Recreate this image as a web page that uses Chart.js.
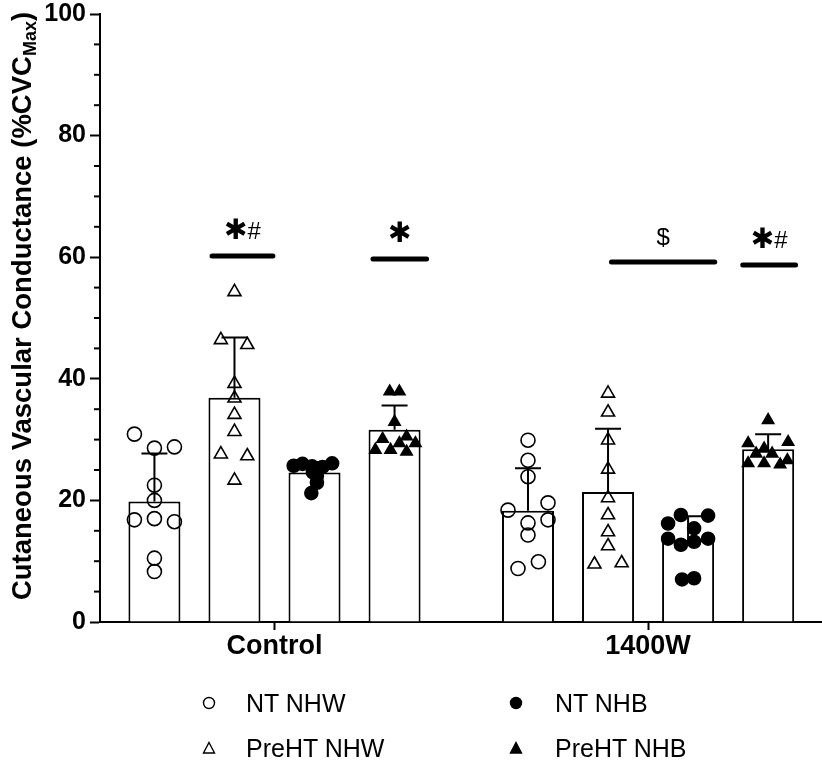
<!DOCTYPE html>
<html>
<head>
<meta charset="utf-8">
<script src="https://cdn.jsdelivr.net/npm/chart.js@4.4.1/dist/chart.umd.min.js"></script>
<style>
  html, body { margin: 0; padding: 0; background: #fff; }
  #wrap { position: relative; width: 822px; height: 765px; }
  #legend { position: absolute; left: 0; top: 0; width: 822px; height: 765px; pointer-events: none;
    font-family: 'Liberation Sans', Arial, sans-serif; font-size: 25px; color: #000; }
  .item { position: absolute; height: 30px; line-height: 30px; white-space: nowrap; }
  .item svg { position: absolute; top: 8px; }
  .item span { position: absolute; top: 0; }
</style>
</head>
<body>
<div id="wrap">
  <canvas id="myChart" width="822" height="765"></canvas>
  <div id="legend"></div>
</div>
<script>
var groupLabels = ['Control', '1400W'];
var seriesLabels = ['NT NHW', 'PreHT NHW', 'NT NHB', 'PreHT NHB'];

// bar heights (mean) and upper error bar (SD), order as seriesLabels
var meanControl = [19.8, 36.9, 24.6, 31.6];
var meanW1400 = [18.3, 21.4, 13.5, 28.4];
var sdControl = [7.9, 9.9, 1.4, 4.0];
var sdW1400 = [7.0, 10.4, 3.9, 2.5];

// individual subjects, Control
var ctlNtNhw = [30.9, 28.6, 28.8, 22.5, 20.0, 16.8, 17.0, 16.5, 10.5, 8.3];
var ctlPreNhw = [54.3, 46.4, 45.6, 39.2, 36.8, 34.1, 31.3, 27.6, 27.3, 23.3];
var ctlNtNhb = [25.7, 26.0, 25.6, 25.5, 26.1, 25.3, 24.6, 24.0, 22.9, 21.2];
var ctlPreNhb = [37.9, 37.9, 32.9, 30.1, 30.5, 29.4, 29.4, 28.3, 28.3, 28.0];
// individual subjects, 1400W
var wNtNhw = [29.9, 26.6, 23.9, 18.4, 19.6, 16.8, 16.3, 14.3, 8.8, 9.9];
var wPreNhw = [37.6, 34.5, 29.9, 25.1, 20.4, 17.6, 14.8, 12.5, 9.5, 9.7];
var wNtNhb = [16.2, 17.6, 17.5, 15.4, 13.7, 12.7, 13.2, 13.7, 7.0, 7.2];
var wPreNhb = [33.2, 29.4, 29.6, 28.5, 27.7, 27.7, 26.1, 26.1, 25.9, 26.6];

// horizontal scatter of the dots (fraction of bar spacing)
var ctlNtNhwJit = [-0.25, 0, 0.25, 0, 0, -0.25, 0, 0.25, 0, 0];
var ctlPreNhwJit = [0, -0.17, 0.16, 0, 0, 0, 0, -0.17, 0.16, 0];
var ctlNtNhbJit = [-0.26, -0.15, -0.03, 0.1, 0.22, 0.04, -0.02, 0.03, 0.03, -0.04];
var ctlPreNhbJit = [-0.06, 0.06, 0, -0.15, 0.15, 0.06, 0.26, -0.24, -0.05, 0.15];
var wNtNhwJit = [0, 0, 0, -0.25, 0.25, 0.25, 0, 0, -0.125, 0.13];
var wPreNhwJit = [0, 0, 0, 0, 0, 0, 0, 0, -0.17, 0.17];
var wNtNhbJit = [-0.25, -0.09, 0.25, 0.075, -0.25, -0.09, 0.075, 0.25, -0.075, 0.075];
var wPreNhbJit = [0, -0.25, 0.25, -0.05, -0.15, 0.05, -0.25, -0.05, 0.15, 0.24];

// significance bars
var sigY = [60.2, 59.7, 59.2, 58.7];
var sigStart = [0.72, 2.73, 5.71, 7.35];
var sigEnd = [1.48, 3.40, 7.00, 8.01];
var sigText = ['\u2731#', '\u2731', '$', '\u2731#'];

var fam = "'Liberation Sans', Arial, sans-serif";
var groupStride = 4.667;

function barX(g, s) { return g * groupStride + s; }
function groupCenter(g) { return g * groupStride + 1.5; }

var means = [meanControl, meanW1400];
var sds = [sdControl, sdW1400];
var points = [[ctlNtNhw, ctlPreNhw, ctlNtNhb, ctlPreNhb], [wNtNhw, wPreNhw, wNtNhb, wPreNhb]];
var jitters = [[ctlNtNhwJit, ctlPreNhwJit, ctlNtNhbJit, ctlPreNhbJit], [wNtNhwJit, wPreNhwJit, wNtNhbJit, wPreNhbJit]];

var pointStyles = ['circle', 'triangle', 'circle', 'triangle'];
var pointFills = ['rgba(0,0,0,0)', 'rgba(0,0,0,0)', '#000', '#000'];
var pointSizes = [7, 7.5, 6.5, 6.5];

var barData = [];
means.forEach(function (m, g) {
  m.forEach(function (v, s) { barData.push({ x: barX(g, s), y: v }); });
});

var datasets = [{
  type: 'bar',
  label: 'bars',
  data: barData,
  backgroundColor: '#fff',
  borderColor: '#000',
  borderWidth: 2,
  categoryPercentage: 1,
  barPercentage: 0.65,
  order: 3
}];

seriesLabels.forEach(function (name, s) {
  var d = [];
  for (var g = 0; g < 2; g++) {
    points[g][s].forEach(function (v, k) {
      d.push({ x: barX(g, s) + jitters[g][s][k], y: v });
    });
  }
  datasets.push({
    type: 'scatter',
    label: name,
    data: d,
    pointStyle: pointStyles[s],
    pointRadius: pointSizes[s],
    pointBackgroundColor: pointFills[s],
    pointBorderColor: '#000',
    pointBorderWidth: 1.6,
    showLine: false,
    order: 1
  });
});

sigY.forEach(function (y, i) {
  datasets.push({
    type: 'line',
    label: 'sig' + i,
    data: [{ x: sigStart[i], y: y }, { x: sigEnd[i], y: y }],
    borderColor: '#000',
    borderWidth: 5,
    borderCapStyle: 'round',
    pointRadius: 0,
    order: 2
  });
});

// error bars, minor ticks, significance marks and the y title
var extras = {
  id: 'extras',
  afterDatasetDraw: function (chart, args) {
    if (args.index !== 0) return;
    var ctx = chart.ctx, xs = chart.scales.x, ys = chart.scales.y;
    ctx.save();
    ctx.strokeStyle = '#000';
    ctx.lineWidth = 2;
    for (var g = 0; g < 2; g++) {
      for (var s = 0; s < 4; s++) {
        var px = xs.getPixelForValue(barX(g, s));
        var y0 = ys.getPixelForValue(means[g][s]);
        var y1 = ys.getPixelForValue(means[g][s] + sds[g][s]);
        ctx.beginPath();
        ctx.moveTo(px, y0);
        ctx.lineTo(px, y1);
        ctx.moveTo(px - 13, y1);
        ctx.lineTo(px + 13, y1);
        ctx.stroke();
      }
    }
    ctx.restore();
  },
  afterDraw: function (chart) {
    var ctx = chart.ctx, xs = chart.scales.x, ys = chart.scales.y;
    var left = chart.chartArea.left;
    ctx.save();
    ctx.strokeStyle = '#000';
    ctx.lineWidth = 2;
    for (var v = 5; v < 100; v += 5) {
      if (v % 20 === 0) continue;
      var py = ys.getPixelForValue(v);
      ctx.beginPath();
      ctx.moveTo(left - 6, py);
      ctx.lineTo(left, py);
      ctx.stroke();
    }

    // significance labels
    ctx.fillStyle = '#000';
    ctx.textBaseline = 'middle';
    sigText.forEach(function (t, i) {
      var cx = xs.getPixelForValue((sigStart[i] + sigEnd[i]) / 2);
      var cy = ys.getPixelForValue(sigY[i]) - 24;
      var parts = [];
      for (var k = 0; k < t.length; k++) {
        var c = t[k];
        parts.push({ c: c, font: c === '\u2731' ? "bold 28px 'DejaVu Sans'" : '24px ' + fam });
      }
      var total = 0;
      parts.forEach(function (p) { ctx.font = p.font; p.w = ctx.measureText(p.c).width; total += p.w; });
      var x = cx - total / 2;
      ctx.textAlign = 'left';
      parts.forEach(function (p) { ctx.font = p.font; ctx.fillText(p.c, x, cy); x += p.w; });
    });

    // y axis title with subscript
    var main = 'Cutaneous Vascular Conductance (%CVC';
    var sub = 'Max';
    var end = ')';
    var fMain = 'bold 27.5px ' + fam, fSub = 'bold 18px ' + fam;
    ctx.font = fMain;
    var wMain = ctx.measureText(main).width, wEnd = ctx.measureText(end).width;
    ctx.font = fSub;
    var wSub = ctx.measureText(sub).width;
    var totalW = wMain + wSub + wEnd;
    ctx.translate(31, 306);
    ctx.rotate(-Math.PI / 2);
    ctx.textAlign = 'left';
    ctx.textBaseline = 'alphabetic';
    var tx = -totalW / 2;
    ctx.font = fMain;
    ctx.fillText(main, tx, 0);
    tx += wMain;
    ctx.font = fSub;
    ctx.fillText(sub, tx, 5);
    tx += wSub;
    ctx.font = fMain;
    ctx.fillText(end, tx, 0);
    ctx.restore();
  }
};

var ctx = document.getElementById('myChart').getContext('2d');
var myChart = new Chart(ctx, {
  type: 'bar',
  data: { datasets: datasets },
  plugins: [extras],
  options: {
    responsive: false,
    animation: false,
    devicePixelRatio: 1,
    layout: { autoPadding: false, padding: 0 },
    plugins: {
      legend: { display: false },
      tooltip: { enabled: false }
    },
    scales: {
      x: {
        type: 'linear',
        min: -0.68,
        max: 8.34,
        offset: false,
        afterBuildTicks: function (scale) {
          scale.ticks = groupLabels.map(function (g, i) { return { value: groupCenter(i) }; });
        },
        afterFit: function (scale) { scale.height = 143; },
        ticks: {
          autoSkip: false,
          maxRotation: 0,
          padding: 0,
          color: '#000',
          font: { family: fam, size: 27, weight: 'bold' },
          callback: function (value, index) { return groupLabels[index]; }
        },
        grid: { offset: false, drawOnChartArea: false, tickLength: 8, tickWidth: 2, tickColor: '#000' },
        border: { color: '#000', width: 2 }
      },
      y: {
        min: 0,
        max: 100,
        afterFit: function (scale) { scale.width = 100; },
        ticks: {
          stepSize: 20,
          padding: 4,
          color: '#000',
          font: { family: fam, size: 25, weight: 'bold', lineHeight: 0.8 }
        },
        grid: { drawOnChartArea: false, tickLength: 10, tickWidth: 2, tickColor: '#000' },
        border: { color: '#000', width: 2 }
      }
    }
  }
});

// legend in two columns, as in the figure
var legend = document.getElementById('legend');
var colSym = [209, 516], colText = [246, 555], rowY = [703, 748];
seriesLabels.forEach(function (name, s) {
  var col = s >= 2 ? 1 : 0, row = s % 2;
  var fill = pointFills[s] === '#000' ? '#000' : 'none';
  var shape = pointStyles[s] === 'circle'
    ? '<circle cx="7" cy="7" r="5.5" fill="' + fill + '" stroke="#000" stroke-width="1.4"/>'
    : '<polygon points="7,1.5 12.5,12 1.5,12" fill="' + fill + '" stroke="#000" stroke-width="1.4"/>';
  var item = document.createElement('div');
  item.className = 'item';
  item.style.left = '0px';
  item.style.top = (rowY[row] - 15) + 'px';
  item.innerHTML = '<svg width="14" height="14" style="left:' + (colSym[col] - 7) + 'px">' + shape + '</svg>' +
    '<span style="left:' + colText[col] + 'px">' + name + '</span>';
  legend.appendChild(item);
});
</script>
</body>
</html>
